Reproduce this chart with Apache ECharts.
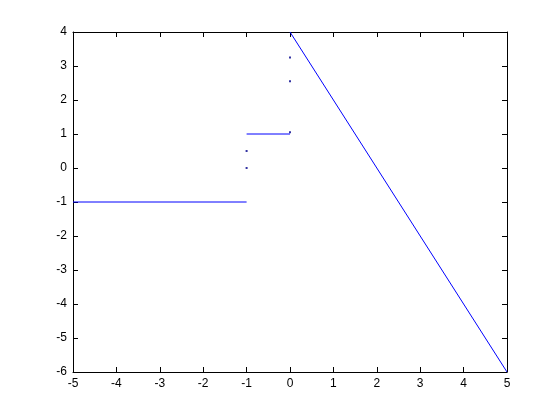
<!DOCTYPE html>
<html>
<head>
<meta charset="utf-8">
<script src="https://cdn.jsdelivr.net/npm/echarts@6/dist/echarts.min.js"></script>
<style>html,body{margin:0;padding:0;background:#fff;}#c{width:560px;height:420px;}</style>
</head>
<body>
<div id="c"></div>
<script>
const lowX = [-5, -1];
const lowY = [-1, -1];
const midX = [-1, 0];
const midY = [1, 1];
const rampX = [0, 5];
const rampY = [4, -6];
const jumpX = [-1, -1, 0, 0, 0];
const jumpY = [0, 0.5, 1.05, 2.55, 3.25];
const xTicks = [-5, -4, -3, -2, -1, 0, 1, 2, 3, 4, 5];
const yTicks = [-6, -5, -4, -3, -2, -1, 0, 1, 2, 3, 4];

const pairs = (xs, ys) => xs.map((x, i) => [x, ys[i]]);
const font = { fontFamily: 'Liberation Sans', fontSize: 12, color: '#000' };
const axisBase = {
  type: 'value',
  axisLine: { show: true, onZero: false, lineStyle: { color: '#000', width: 1 } },
  axisTick: { show: true, inside: true, length: 5, lineStyle: { color: '#000' } },
  splitLine: { show: false }
};
const chart = echarts.init(document.getElementById('c'), null, { renderer: 'canvas' });
chart.setOption({
  animation: false,
  backgroundColor: '#fff',
  grid: { left: 73, right: 53, top: 32, bottom: 48 },
  xAxis: [
    Object.assign({}, axisBase, { position: 'bottom', min: xTicks[0], max: xTicks[xTicks.length - 1], interval: 1,
      axisLabel: Object.assign({ margin: 6 }, font) }),
    Object.assign({}, axisBase, { position: 'top', min: xTicks[0], max: xTicks[xTicks.length - 1], interval: 1,
      axisLabel: { show: false } })
  ],
  yAxis: [
    Object.assign({}, axisBase, { position: 'left', min: yTicks[0], max: yTicks[yTicks.length - 1], interval: 1,
      axisLabel: Object.assign({ margin: 6 }, font) }),
    Object.assign({}, axisBase, { position: 'right', min: yTicks[0], max: yTicks[yTicks.length - 1], interval: 1,
      axisLabel: { show: false } })
  ],
  series: [
    { type: 'line', data: pairs(lowX, lowY), showSymbol: false, lineStyle: { color: '#0000ff', width: 1 } },
    { type: 'line', data: pairs(midX, midY), showSymbol: false, lineStyle: { color: '#0000ff', width: 1 } },
    { type: 'line', data: pairs(rampX, rampY), showSymbol: false, lineStyle: { color: '#0000ff', width: 1 } },
    { type: 'scatter', data: pairs(jumpX, jumpY), symbol: 'rect', symbolSize: [2, 2],
      itemStyle: { color: '#00008b' } }
  ]
});
</script>
</body>
</html>
